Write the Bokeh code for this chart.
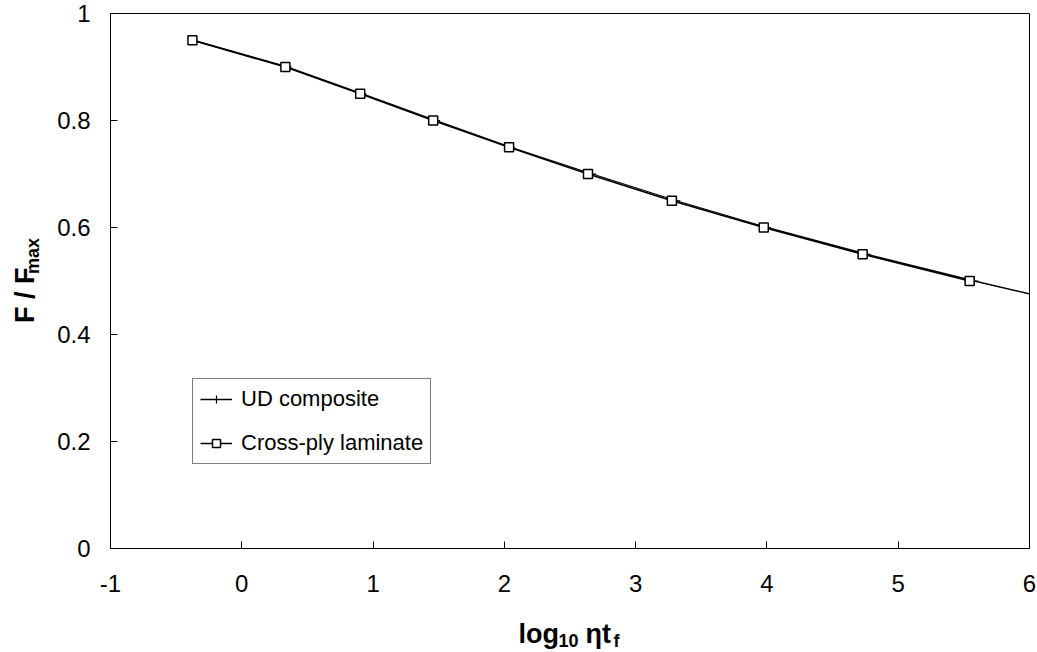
import math
from bokeh.plotting import figure
from bokeh.layouts import row, column
from bokeh.models import Range1d, Legend, LegendItem, FixedTicker
from bokeh.core.properties import value
from bokeh.embed import file_html
from bokeh.resources import INLINE

# ---- data ----
ud_x = [-0.37, 0.35, 0.92, 1.48, 2.05, 2.67, 3.31, 4.00, 4.76, 5.58, 6.45]
ud_y = [0.95, 0.90, 0.85, 0.80, 0.75, 0.70, 0.65, 0.60, 0.55, 0.50, 0.45]

cp_x = [-0.376, 0.332, 0.902, 1.458, 2.036, 2.637, 3.276, 3.976, 4.729, 5.544]
cp_y = [0.95, 0.90, 0.85, 0.80, 0.75, 0.70, 0.65, 0.60, 0.55, 0.50]

x_ticks = [-1, 0, 1, 2, 3, 4, 5, 6]
x_tick_labels = ["-1", "0", "1", "2", "3", "4", "5", "6"]
y_ticks = [0, 0.2, 0.4, 0.6, 0.8, 1.0]
y_tick_labels = ["0", "0.2", "0.4", "0.6", "0.8", "1"]

series_names = ["UD composite", "Cross-ply laminate"]

# axis titles split into normal / subscript pieces
x_title_parts = ["log", "10", "\u03b7t", "f"]
y_title_parts = ["F / F", "max"]

FONT = "Liberation Sans"

# ---- main plot ----
p = figure(width=989, height=612, output_backend="svg", toolbar_location=None,
           x_range=Range1d(-1, 6), y_range=Range1d(0, 1),
           min_border_left=62, min_border_right=8, min_border_top=13, min_border_bottom=64)
p.background_fill_color = "white"
p.border_fill_color = "white"
p.outline_line_color = "black"
p.outline_line_width = 1
p.xgrid.visible = False
p.ygrid.visible = False

for ax, ticks, labels in ((p.xaxis[0], x_ticks, x_tick_labels), (p.yaxis[0], y_ticks, y_tick_labels)):
    ax.ticker = FixedTicker(ticks=ticks)
    ax.major_label_overrides = {t: l for t, l in zip(ticks, labels)}
    ax.major_tick_in = 7
    ax.major_tick_out = 0
    ax.minor_tick_line_color = None
    ax.axis_line_color = "black"
    ax.major_tick_line_color = "black"
    ax.major_label_text_font = FONT
    ax.major_label_text_font_size = "24px"
    ax.major_label_text_color = "black"

p.xaxis[0].major_label_standoff = 26
p.yaxis[0].major_label_standoff = 20

ud_line = p.line(ud_x, ud_y, line_color="black", line_width=1.3)
ud_pts = p.scatter(ud_x, ud_y, marker="cross", size=8, line_color="black", line_width=1.2)
cp_line = p.line(cp_x, cp_y, line_color="black", line_width=1.6)
cp_pts = p.scatter(cp_x, cp_y, marker="square", size=9, line_color="black",
                   fill_color="white", line_width=1.5)

legend = Legend(items=[LegendItem(label=series_names[0], renderers=[ud_line, ud_pts]),
                       LegendItem(label=series_names[1], renderers=[cp_line, cp_pts])],
                location=(82, 84))
legend.label_text_font = FONT
legend.label_text_font_size = "22px"
legend.label_text_color = "black"
legend.border_line_color = "black"
legend.border_line_width = 1
legend.background_fill_color = "white"
legend.background_fill_alpha = 1
legend.padding = 7
legend.spacing = 18
legend.glyph_width = 32
legend.glyph_height = 20
legend.label_height = 20
legend.label_standoff = 9
legend.margin = 0
p.add_layout(legend, "center")


def helper(w, h):
    f = figure(width=w, height=h, output_backend="svg", toolbar_location=None,
               x_range=Range1d(0, w), y_range=Range1d(0, h), min_border=0,
               x_axis_location=None, y_axis_location=None)
    f.outline_line_color = None
    f.background_fill_color = "white"
    f.border_fill_color = "white"
    f.grid.visible = False
    return f


def txt(f, x, y, s, size, angle=0.0):
    f.text(x=[x], y=[y], text=[s], angle=angle, text_font=value(FONT),
           text_font_size=value(size), text_font_style="bold", text_color="black",
           text_align="left", text_baseline="alphabetic")


# ---- y title (left strip) ----
yf = helper(48, 612)
txt(yf, 24, 258, y_title_parts[0], "27px", math.pi / 2)
txt(yf, 32, 314, y_title_parts[1], "18px", math.pi / 2)

# ---- x title (bottom strip) ----
xf = helper(1037, 40)
txt(xf, 518, 19, x_title_parts[0], "27px")
txt(xf, 558, 12, x_title_parts[1], "18px")
txt(xf, 585, 19, x_title_parts[2], "27px")
txt(xf, 613, 12, x_title_parts[3], "18px")

layout = column(row(yf, p), xf)
open("out.html", "w").write(file_html(layout, INLINE))
